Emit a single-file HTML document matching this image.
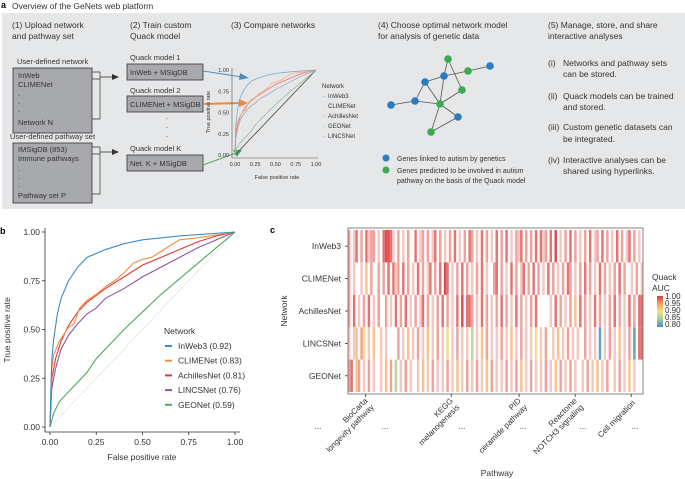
<!DOCTYPE html>
<html><head><meta charset="utf-8"><style>
body{margin:0;background:#fff;}
svg{display:block;font-family:"Liberation Sans",Arial,sans-serif;}
</style></head><body>
<svg id="fig" width="685" height="479" viewBox="0 0 685 479" xmlns="http://www.w3.org/2000/svg">
<g>
<rect x="2" y="13" width="683" height="196" fill="#e6e7e8"/>
<text x="1" y="8" font-size="9" font-weight="bold">a</text>
<text x="12" y="9" font-size="8.5" fill="#333">Overview of the GeNets web platform</text>
<g font-size="8.5" fill="#333">
<text x="12" y="28">(1) Upload network</text>
<text x="12" y="39">and pathway set</text>
<text x="130" y="28">(2) Train custom</text>
<text x="130" y="39">Quack model</text>
<text x="231" y="28">(3) Compare networks</text>
<text x="378" y="28">(4) Choose optimal network model</text>
<text x="378" y="39">for analysis of genetic data</text>
<text x="548" y="28">(5) Manage, store, and share</text>
<text x="548" y="39">interactive analyses</text>
</g>
<g font-size="7.5" fill="#333">
<text x="17" y="64">User-defined network</text>
<rect x="13" y="68" width="79" height="65" fill="#a7a9ac" stroke="#333" stroke-width="0.8"/>
<text x="18" y="78">InWeb</text><text x="18" y="87">CLIMENet</text>
<text x="18" y="96">.</text><text x="18" y="104">.</text><text x="18" y="112">.</text>
<text x="18" y="125">Network N</text>
<path d="M92 72 H100 V119 H92 M92 79 H100" fill="none" stroke="#333" stroke-width="0.7"/>
<path d="M100 77 H112" stroke="#333" stroke-width="0.8"/><path d="M112 74 L119 77 L112 80Z" fill="#333"/>
<text x="10" y="139">User-defined pathway set</text>
<rect x="13" y="143" width="79" height="60" fill="#a7a9ac" stroke="#333" stroke-width="0.8"/>
<text x="18" y="152">IMSigDB (853)</text><text x="18" y="161">Immune pathways</text>
<text x="18" y="171">.</text><text x="18" y="179">.</text><text x="18" y="187">.</text>
<text x="18" y="198">Pathway set P</text>
<path d="M92 147 H100 V194 H92 M92 154 H100" fill="none" stroke="#333" stroke-width="0.7"/>
<path d="M100 152 H112" stroke="#333" stroke-width="0.8"/><path d="M112 149 L119 152 L112 155Z" fill="#333"/>
<text x="130" y="60">Quack model 1</text>
<rect x="127" y="64" width="76" height="16" fill="#a7a9ac" stroke="#333" stroke-width="0.8"/>
<text x="130" y="75">InWeb + MSigDB</text>
<text x="130" y="93">Quack model 2</text>
<rect x="127" y="96" width="76" height="16" fill="#a7a9ac" stroke="#333" stroke-width="0.8"/>
<text x="130" y="107">CLIMENet + MSigDB</text>
<text x="166" y="119">.</text><text x="166" y="128">.</text><text x="166" y="137">.</text>
<text x="130" y="151">Quack model K</text>
<rect x="127" y="155" width="76" height="16" fill="#a7a9ac" stroke="#333" stroke-width="0.8"/>
<text x="130" y="166">Net. K + MSigDB</text>
</g>
<path d="M203 71 L242 77" stroke="#4f8fc0" stroke-width="1"/><path d="M240 73 L249 78 L239 80Z" fill="#4f8fc0"/>
<path d="M203 104 L240 103" stroke="#f08a3a" stroke-width="2"/><path d="M239 99 L248 103 L239 107Z" fill="#f08a3a"/>
<path d="M203 165 L236 153" stroke="#55aa66" stroke-width="1"/><path d="M233 150 L242 150 L237 157Z" fill="#55aa66"/>
<g id="mini"></g>
<g id="net"></g>
<g font-size="7" fill="#333">
<circle cx="386" cy="158" r="3.5" fill="#2a7bbf"/>
<text x="397" y="161">Genes linked to autism by genetics</text>
<circle cx="386" cy="170" r="3.5" fill="#3bab4f"/>
<text x="397" y="173">Genes predicted to be involved in autism</text>
<text x="397" y="183">pathway on the basis of the Quack model</text>
</g>
<g font-size="8.5" fill="#333">
<text x="548" y="66">(i)</text><text x="563" y="66">Networks and pathway sets</text><text x="563" y="77">can be stored.</text>
<text x="548" y="99">(ii)</text><text x="563" y="99">Quack models can be trained</text><text x="563" y="110">and stored.</text>
<text x="548" y="130">(iii)</text><text x="563" y="130">Custom genetic datasets can</text><text x="563" y="142">be integrated.</text>
<text x="548" y="163">(iv)</text><text x="563" y="163">Interactive analyses can be</text><text x="563" y="174">shared using hyperlinks.</text>
</g>
</g>
<g id="pb">
<text x="0" y="234" font-size="9" font-weight="bold">b</text>
</g>
<g id="pc">
<text x="270" y="233" font-size="9" font-weight="bold">c</text>
</g>
</svg>
<script>
// ROC data
const names = ["InWeb3 (0.92)","CLIMENet (0.83)","AchillesNet (0.81)","LINCSNet (0.76)","GEONet (0.59)"];
const miniNames = ["InWeb3","CLIMENet","AchillesNet","GEONet","LINCSNet"];
const colors = ["#3a8cc4","#f28e3c","#e0383e","#8e55a3","#4aaa5a"];
const inwebFpr = [0,0.005,0.01,0.02,0.04,0.06,0.1,0.15,0.2,0.3,0.4,0.5,0.7,1];
const inwebTpr = [0,0.2,0.35,0.45,0.58,0.66,0.75,0.82,0.87,0.91,0.94,0.96,0.98,1];
const climeFpr = [0,0.01,0.02,0.05,0.1,0.13,0.16,0.2,0.25,0.3,0.35,0.4,0.45,0.5,0.55,0.6,0.65,0.7,0.8,1];
const climeTpr = [0,0.3,0.37,0.44,0.51,0.53,0.61,0.65,0.68,0.72,0.75,0.79,0.84,0.86,0.87,0.9,0.93,0.96,0.97,1];
const achFpr = [0,0.01,0.03,0.06,0.1,0.15,0.2,0.3,0.4,0.5,0.6,0.7,0.8,0.9,1];
const achTpr = [0,0.25,0.35,0.44,0.52,0.59,0.64,0.71,0.77,0.83,0.87,0.91,0.95,0.98,1];
const lincsFpr = [0,0.01,0.03,0.06,0.1,0.15,0.2,0.25,0.3,0.4,0.5,0.6,0.7,0.8,0.9,1];
const lincsTpr = [0,0.2,0.3,0.4,0.47,0.53,0.58,0.61,0.66,0.71,0.77,0.82,0.87,0.92,0.96,1];
const geoFpr = [0,0.02,0.05,0.1,0.15,0.2,0.25,0.3,0.4,0.5,0.6,0.7,0.8,0.9,1];
const geoTpr = [0,0.07,0.13,0.18,0.23,0.28,0.35,0.4,0.5,0.59,0.68,0.76,0.84,0.92,1];
const ticks = [0,0.25,0.5,0.75,1];
const tickLabels = ["0.00","0.25","0.50","0.75","1.00"];
// heatmap data: '.' = blank, codes map to AUC
const rowNames = ["InWeb3","CLIMENet","AchillesNet","LINCSNet","GEONet"];
const codeAUC = {"1":0.965,"2":0.975,"3":0.99,"4":1.0,"o":0.95,"y":0.91,"g":0.86,"b":0.81};
const heatRows = [
"2.13.2.312"+"2.1.34431."+"2.1.2..3.1"+"2.2.13.2.1"+".2.3.1.2.3"+"2.1.3.2.1."+"3.2.3.1.21"+"3.2.2.3.31"+"2.3.4.1.2."+"3.2.1.2.3."+"12.3.2.1.3"+".2.13.2.1.",
"2.1..1.o.2"+"..2.2.3.31"+"2.3.2.1.3."+"2.13.2.3.4"+"3.1.2.3.2."+"1.2.3.1..2"+"3.2.1.3.2."+"13.2.3.2.1"+".3.2.1.2.3"+"2.1.2.3.2."+"1.3.2.1.2."+"3.2..1.2.1",
"2.3.1.2.3."+"1.2..2.1.3"+".2.3.1.2.1"+"3.2.1.2.3."+"2.1.3.4.33"+"2.1.3.2.1."+"2.3.2.1.3."+"2.1.2.3..."+"..1.3.2.1."+"2.o.3.2.1."+"3.2.1.2.3."+"2.1.3.2.33",
"1.1o.2y.1."+"o..1.1...."+"2.1.o.1.2."+"1.o.1.2.1."+"y.1.2.1.1."+"g.1.o.2.1."+"1.2.1.o.1."+"2.1.1.y.1."+"2..1.o.1.2"+".1.1..2.1."+"1.b.1.2.1."+"o.1.2.b.33",
"23.o2.1.2."+"1..1.o.2.g"+".1.2.1..1."+"o.1.2.1.1."+"2.1.o.1.2."+"1.2.1.o.2."+"1.1.2.1.2."+"o.1.2.1.1."+"2.1.o.2.1."+"2.1..1.2.1"+".o.1.2..1."+"2.1.o.1..."
];
const cTickLabels = [["BioCarta","longevity pathway"],["KEGG","melanogenesis"],["PID","ceramide pathway"],["Reactome","NOTCH3 signaling"],["Cell migration"]];
const cTickPos = [0.06,0.35,0.58,0.77,0.96];
const cbValues = [1.00,0.95,0.90,0.85,0.80];

const NS="http://www.w3.org/2000/svg";
function mk(tag,attrs,parent,txt){const e=document.createElementNS(NS,tag);for(const k in attrs)e.setAttribute(k,attrs[k]);if(txt!==undefined)e.textContent=txt;parent.appendChild(e);return e;}
const series=[[inwebFpr,inwebTpr],[climeFpr,climeTpr],[achFpr,achTpr],[lincsFpr,lincsTpr],[geoFpr,geoTpr]];

// Panel b
const pb=document.getElementById('pb');
const bx=v=>50+v*185, by=v=>427-v*195;
let ax=mk('path',{d:'M45 228 V432 H240',fill:'none',stroke:'#333','stroke-width':0.8},pb);


mk('line',{x1:bx(0),y1:by(0),x2:bx(1),y2:by(1),stroke:'#e4e4e4','stroke-width':0.8},pb);
ticks.forEach((t,i)=>{
  mk('line',{x1:42,x2:45,y1:by(t),y2:by(t),stroke:'#333','stroke-width':0.8},pb);
  const yl=mk('text',{x:40,y:by(t)+3,'font-size':8.5,'text-anchor':'end',fill:'#333'},pb,tickLabels[i]);
  
  
  mk('line',{x1:bx(t),x2:bx(t),y1:432,y2:435,stroke:'#333','stroke-width':0.8},pb);
  const xl=mk('text',{x:bx(t),y:445,'font-size':8.5,'text-anchor':'middle',fill:'#333'},pb,tickLabels[i]);
  
  
});
let t1=mk('text',{x:142,y:460,'font-size':8.5,'text-anchor':'middle',fill:'#333'},pb,'False positive rate');


let t2=mk('text',{x:10,y:330,'font-size':8.5,'text-anchor':'middle',fill:'#333',transform:'rotate(-90 10 330)'},pb,'True positive rate');


[4,3,2,1,0].forEach(si=>{
  const [f,t]=series[si];
  const l=mk('polyline',{points:f.map((v,i)=>bx(v)+','+by(t[i])).join(' '),fill:'none',stroke:colors[si],'stroke-width':1.1},pb);
  
  
});
let lt=mk('text',{x:164,y:334,'font-size':8.5,fill:'#333'},pb,'Network');


names.forEach((n,i)=>{
  const y=346+i*14.7;
  mk('line',{x1:165,x2:172,y1:y,y2:y,stroke:colors[i],'stroke-width':2},pb);
  const le=mk('text',{x:178,y:y+3,'font-size':8.5,fill:'#333'},pb,n);
  
  
});

// mini chart
const mini=document.getElementById('mini');
const mx=v=>235+v*81, my=v=>155-v*85;
mk('path',{d:'M232 68 V158 H318',fill:'none',stroke:'#555','stroke-width':0.6},mini);
mk('line',{x1:mx(0),y1:my(0),x2:mx(1),y2:my(1),stroke:'#333','stroke-width':0.7},mini);
ticks.forEach((t,i)=>{
  mk('text',{x:229,y:my(t)+2,'font-size':5.5,'text-anchor':'end',fill:'#333'},mini,tickLabels[i]);
  mk('text',{x:mx(t),y:166,'font-size':5.5,'text-anchor':'middle',fill:'#333'},mini,tickLabels[i]);
});
mk('text',{x:277,y:179,'font-size':5.5,'text-anchor':'middle',fill:'#333'},mini,'False positive rate');
mk('text',{x:210,y:112,'font-size':5.5,'text-anchor':'middle',fill:'#333',transform:'rotate(-90 210 112)'},mini,'True positive rate');
const miniCol=["#7aa9cf","#f4b17f","#e9706f","#90c49a","#a9a3b8"];
const miniIdx=[0,1,2,4,3];
[3,4,2,1,0].forEach(k=>{
  const si=miniIdx[k];const [f,t]=series[si];
  const l=mk('polyline',{points:f.map((v,i)=>mx(v)+','+my(t[i])).join(' '),fill:'none',stroke:miniCol[k],'stroke-width':0.8},mini);
  
  
});
mk('text',{x:322,y:88,'font-size':6,fill:'#333'},mini,'Network');
miniNames.forEach((n,k)=>{
  mk('text',{x:323,y:98+k*10,'font-size':6,fill:miniCol[k]},mini,'-');
  mk('text',{x:328,y:98+k*10,'font-size':6,fill:'#333'},mini,n);
});

// network diagram
const net=document.getElementById('net');
const nodes=[[448,59,'g'],[490,66,'b'],[468,71,'g'],[444,76,'b'],[425,82,'b'],[462,90,'g'],[415,101,'b'],[440,104,'g'],[391,105,'b'],[458,117,'b'],[431,132,'g']];
const edges=[[0,3],[0,5],[3,2],[2,1],[3,4],[3,7],[4,6],[4,7],[8,6],[6,7],[5,7],[7,9],[7,10],[10,9]];
edges.forEach(e=>mk('line',{x1:nodes[e[0]][0],y1:nodes[e[0]][1],x2:nodes[e[1]][0],y2:nodes[e[1]][1],stroke:'#555','stroke-width':0.8},net));
nodes.forEach(n=>{const c=mk('circle',{cx:n[0],cy:n[1],r:3.8,fill:n[2]=='g'?'#3bab4f':'#2a7bbf'},net);

});

// Panel c heatmap
const pc=document.getElementById('pc');
const hx0=348,hx1=643,hy0=230,hy1=392,rh=(hy1-hy0)/5;
function aucColor(v){
  const stops=[[0.80,[74,155,191]],[0.85,[169,212,160]],[0.90,[247,224,138]],[0.95,[249,196,140]],[0.965,[246,200,194]],[0.975,[240,163,157]],[0.99,[230,115,115]],[1.0,[218,76,82]]];
  if(v<=stops[0][0])return 'rgb('+stops[0][1]+')';
  for(let i=1;i<stops.length;i++){if(v<=stops[i][0]){const a=stops[i-1],b=stops[i],t=(v-a[0])/(b[0]-a[0]);return 'rgb('+a[1].map((c,j)=>Math.round(c+(b[1][j]-c)*t)).join(',')+')';}}
  return 'rgb('+stops[stops.length-1][1]+')';
}
const ncols=Math.max(...heatRows.map(r=>r.length));
const cw=(hx1-hx0)/ncols;
heatRows.forEach((row,r)=>{
  for(let c=0;c<row.length;c++){
    const ch=row[c]; if(ch==='.')continue;
    const cell=mk('rect',{x:hx0+c*cw,y:hy0+r*rh,width:cw,height:rh,fill:aucColor(codeAUC[ch])},pc);
    
    
  }
  const rl=mk('text',{x:341,y:hy0+r*rh+rh/2+3,'font-size':8.5,'text-anchor':'end',fill:'#333'},pc,rowNames[r]);
  
  
  mk('line',{x1:345,x2:348,y1:hy0+r*rh+rh/2,y2:hy0+r*rh+rh/2,stroke:'#333','stroke-width':0.8},pc);
});
const fr=mk('rect',{x:hx0,y:hy0-2,width:hx1-hx0,height:hy1-hy0+4,fill:'none',stroke:'#666','stroke-width':0.8},pc);


const nt=mk('text',{x:287,y:311,'font-size':8.5,'text-anchor':'middle',fill:'#333',transform:'rotate(-90 287 311)'},pc,'Network');


cTickPos.forEach((p,i)=>{
  const x=hx0+p*(hx1-hx0);
  mk('line',{x1:x,x2:x,y1:394,y2:397,stroke:'#333','stroke-width':0.8},pc);
  const lines=cTickLabels[i];
  lines.forEach((s,j)=>{
    const dy=j*9+(lines.length>1?-1:2);
    const tl=mk('text',{x:x+3,y:402+dy,'font-size':8,'text-anchor':'end',fill:'#333',transform:'rotate(-45 '+(x+3)+' 402)'},pc,s);
    
    
  });
});
[318,385,462,523,583,635].forEach(x=>{mk('text',{x:x,y:429,'font-size':8,'text-anchor':'middle',fill:'#333'},pc,'...');});
const pt=mk('text',{x:497,y:476,'font-size':8.5,'text-anchor':'middle',fill:'#333'},pc,'Pathway');


mk('text',{x:652,y:280,'font-size':8.5,fill:'#333'},pc,'Quack');
mk('text',{x:652,y:291,'font-size':8.5,fill:'#333'},pc,'AUC');
const defs=mk('defs',{},pc);
const lg=mk('linearGradient',{id:'cb',x1:0,y1:0,x2:0,y2:1},defs);
cbValues.forEach((v,i)=>mk('stop',{offset:i/(cbValues.length-1),'stop-color':['#d63c42','#f6a25a','#f5e08a','#9fd0a0','#3f8fbf'][i]},lg));
const cb=mk('rect',{x:657,y:296,width:6,height:31,fill:'url(#cb)'},pc);


cbValues.forEach((v,i)=>{
  const t=mk('text',{x:665,y:299+i*7,'font-size':8,fill:'#333'},pc,v.toFixed(2));
  
  
});
</script>
</body></html>
